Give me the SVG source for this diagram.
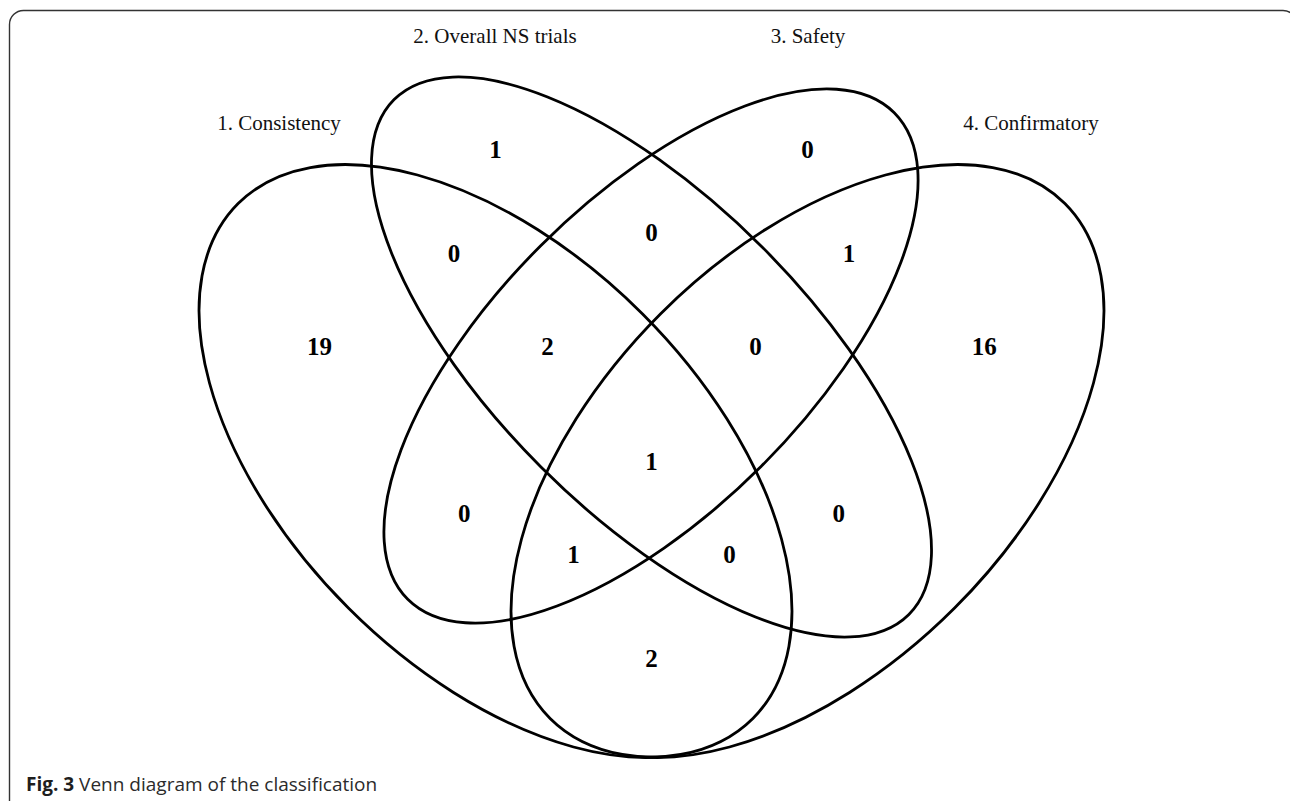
<svg xmlns="http://www.w3.org/2000/svg" width="1290" height="801" viewBox="0 0 1290 801">
  <style>
    .set { fill: none; stroke: #000; stroke-width: 2.8; }
    .cat { font-family: "Liberation Serif", "Times New Roman", serif; font-size: 21px; fill: #111; text-anchor: middle; }
    .num { font-family: "Liberation Serif", "Times New Roman", serif; font-size: 25px; font-weight: bold; fill: #000; text-anchor: middle; }
    .frame { fill: none; stroke: #333; stroke-width: 1.4; }
    .cap { font-family: "Open Sans", "Noto Sans", "DejaVu Sans", sans-serif; font-size: 19px; fill: #2b2b2b; }
  </style>
  <rect width="1290" height="801" fill="#fff"/>
  <path class="frame" d="M 9.5 801 V 24.5 A 14 14 0 0 1 23.5 10.5 H 1283 A 14 14 0 0 1 1297 24.5 V 801"/>

  <g id="set1">
    <ellipse class="set" cx="495.5" cy="461" rx="364" ry="208" transform="rotate(45 495.5 461)"/>
    <text class="cat" x="279" y="130">1. Consistency</text>
  </g>
  <g id="set2">
    <ellipse class="set" cx="651.5" cy="357" rx="364" ry="156" transform="rotate(45 651.5 357)"/>
    <text class="cat" x="495" y="43">2. Overall NS trials</text>
  </g>
  <g id="set3">
    <ellipse class="set" cx="651" cy="356" rx="344" ry="156" transform="rotate(-45 651 356)"/>
    <text class="cat" x="808" y="43">3. Safety</text>
  </g>
  <g id="set4">
    <ellipse class="set" cx="807.5" cy="461" rx="364" ry="208" transform="rotate(-45 807.5 461)"/>
    <text class="cat" x="1031" y="130">4. Confirmatory</text>
  </g>

  <g id="connectors"></g>

  <g id="counts">
    <text class="num" x="495.5" y="157.5">1</text>
    <text class="num" x="651.5" y="240.5">0</text>
    <text class="num" x="807.5" y="157.5">0</text>
    <text class="num" x="454" y="261.5">0</text>
    <text class="num" x="547.5" y="355">2</text>
    <text class="num" x="651.5" y="469.5">1</text>
    <text class="num" x="755.5" y="355">0</text>
    <text class="num" x="849" y="261.5">1</text>
    <text class="num" x="319.5" y="355">19</text>
    <text class="num" x="464.3" y="521.5">0</text>
    <text class="num" x="573.5" y="563">1</text>
    <text class="num" x="651.5" y="667">2</text>
    <text class="num" x="729.5" y="563">0</text>
    <text class="num" x="838.7" y="521.5">0</text>
    <text class="num" x="984.3" y="355">16</text>
  </g>

  <g id="caption">
    <text class="cap" x="26" y="791"><tspan font-weight="bold" fill="#1e1e1e">Fig. 3</tspan> Venn diagram of the classification</text>
  </g>
</svg>
